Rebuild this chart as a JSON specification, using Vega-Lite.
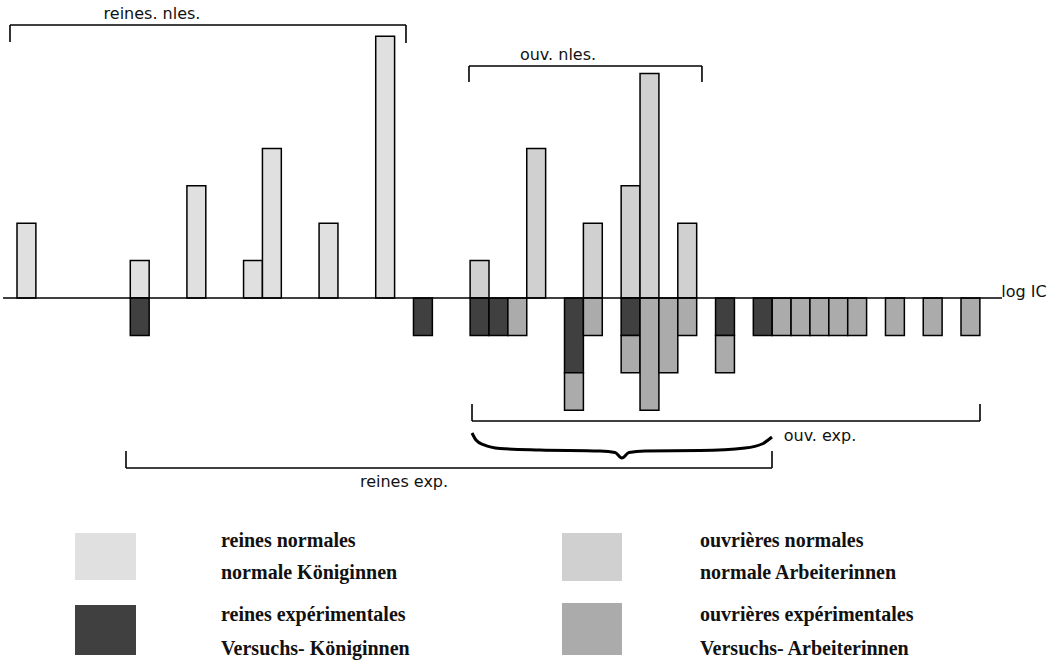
{
  "$schema": "https://vega.github.io/schema/vega-lite/v6.json",
  "width": 1056,
  "height": 660,
  "autosize": {"type": "fit", "contains": "padding"},
  "padding": 0,
  "background": "white",
  "config": {"view": {"stroke": null}},
  "datasets": {
    "barres": [
      {"classe": 0, "groupe": "reines normales", "caste": "reines", "n": 2},
      {"classe": 6, "groupe": "reines normales", "caste": "reines", "n": 1},
      {"classe": 9, "groupe": "reines normales", "caste": "reines", "n": 3},
      {"classe": 12, "groupe": "reines normales", "caste": "reines", "n": 1},
      {"classe": 13, "groupe": "reines normales", "caste": "reines", "n": 4},
      {"classe": 16, "groupe": "reines normales", "caste": "reines", "n": 2},
      {"classe": 19, "groupe": "reines normales", "caste": "reines", "n": 7},
      {"classe": 24, "groupe": "ouvrières normales", "caste": "ouvrières", "n": 1},
      {"classe": 27, "groupe": "ouvrières normales", "caste": "ouvrières", "n": 4},
      {"classe": 30, "groupe": "ouvrières normales", "caste": "ouvrières", "n": 2},
      {"classe": 32, "groupe": "ouvrières normales", "caste": "ouvrières", "n": 3},
      {"classe": 33, "groupe": "ouvrières normales", "caste": "ouvrières", "n": 6},
      {"classe": 35, "groupe": "ouvrières normales", "caste": "ouvrières", "n": 2},
      {"classe": 6, "groupe": "reines expérimentales", "caste": "reines", "n": -1},
      {"classe": 21, "groupe": "reines expérimentales", "caste": "reines", "n": -1},
      {"classe": 24, "groupe": "reines expérimentales", "caste": "reines", "n": -1},
      {"classe": 25, "groupe": "reines expérimentales", "caste": "reines", "n": -1},
      {"classe": 29, "groupe": "reines expérimentales", "caste": "reines", "n": -2},
      {"classe": 32, "groupe": "reines expérimentales", "caste": "reines", "n": -1},
      {"classe": 37, "groupe": "reines expérimentales", "caste": "reines", "n": -1},
      {"classe": 39, "groupe": "reines expérimentales", "caste": "reines", "n": -1},
      {"classe": 26, "groupe": "ouvrières expérimentales", "caste": "ouvrières", "n": -1},
      {"classe": 29, "groupe": "ouvrières expérimentales", "caste": "ouvrières", "n": -1},
      {"classe": 30, "groupe": "ouvrières expérimentales", "caste": "ouvrières", "n": -1},
      {"classe": 32, "groupe": "ouvrières expérimentales", "caste": "ouvrières", "n": -1},
      {"classe": 33, "groupe": "ouvrières expérimentales", "caste": "ouvrières", "n": -3},
      {"classe": 34, "groupe": "ouvrières expérimentales", "caste": "ouvrières", "n": -2},
      {"classe": 35, "groupe": "ouvrières expérimentales", "caste": "ouvrières", "n": -1},
      {"classe": 37, "groupe": "ouvrières expérimentales", "caste": "ouvrières", "n": -1},
      {"classe": 40, "groupe": "ouvrières expérimentales", "caste": "ouvrières", "n": -1},
      {"classe": 41, "groupe": "ouvrières expérimentales", "caste": "ouvrières", "n": -1},
      {"classe": 42, "groupe": "ouvrières expérimentales", "caste": "ouvrières", "n": -1},
      {"classe": 43, "groupe": "ouvrières expérimentales", "caste": "ouvrières", "n": -1},
      {"classe": 44, "groupe": "ouvrières expérimentales", "caste": "ouvrières", "n": -1},
      {"classe": 46, "groupe": "ouvrières expérimentales", "caste": "ouvrières", "n": -1},
      {"classe": 48, "groupe": "ouvrières expérimentales", "caste": "ouvrières", "n": -1},
      {"classe": 50, "groupe": "ouvrières expérimentales", "caste": "ouvrières", "n": -1}
    ],
    "traits": [
      {"x": -1.2415, "x2": 51.671, "y": 0, "y2": 0},
      {"x": -0.871, "x2": 20.103, "y": 7.299, "y2": 7.299},
      {"x": -0.871, "x2": -0.871, "y": 7.299, "y2": 6.845},
      {"x": 20.103, "x2": 20.103, "y": 7.299, "y2": 6.818},
      {"x": 23.44, "x2": 35.78, "y": 6.203, "y2": 6.203},
      {"x": 23.44, "x2": 23.44, "y": 6.203, "y2": 5.775},
      {"x": 35.78, "x2": 35.78, "y": 6.203, "y2": 5.775},
      {"x": 23.6, "x2": 50.506, "y": -3.289, "y2": -3.289},
      {"x": 23.6, "x2": 23.6, "y": -3.289, "y2": -2.834},
      {"x": 50.506, "x2": 50.506, "y": -3.289, "y2": -2.834},
      {"x": 5.273, "x2": 39.49, "y": -4.545, "y2": -4.545},
      {"x": 5.273, "x2": 5.273, "y": -4.545, "y2": -4.091},
      {"x": 39.49, "x2": 39.49, "y": -4.545, "y2": -4.091}
    ],
    "accolade": [
      {"x": 23.6, "y": -3.61},
      {"x": 23.811, "y": -3.797},
      {"x": 24.235, "y": -3.93},
      {"x": 25.083, "y": -4.024},
      {"x": 27.201, "y": -4.064},
      {"x": 30.379, "y": -4.091},
      {"x": 31.174, "y": -4.131},
      {"x": 31.544, "y": -4.278},
      {"x": 31.915, "y": -4.131},
      {"x": 32.763, "y": -4.091},
      {"x": 35.676, "y": -4.078},
      {"x": 38.059, "y": -4.011},
      {"x": 38.96, "y": -3.904},
      {"x": 39.489, "y": -3.717}
    ],
    "etiquettes": [
      {"texte": "reines. nles.", "x": 6.65, "y": 7.594},
      {"texte": "ouv. nles.", "x": 28.155, "y": 6.497},
      {"texte": "ouv. exp.", "x": 42.032, "y": -3.69},
      {"texte": "reines exp.", "x": 19.998, "y": -4.93},
      {"texte": "log IC", "x": 52.837, "y": 0.16}
    ],
    "cases": [
      {"groupe": "reines normales", "x": 2.572, "x2": 5.803, "y": -6.283, "y2": -7.54},
      {"groupe": "reines expérimentales", "x": 2.572, "x2": 5.803, "y": -8.209, "y2": -9.545},
      {"groupe": "ouvrières normales", "x": 28.366, "x2": 31.544, "y": -6.283, "y2": -7.567},
      {"groupe": "ouvrières expérimentales", "x": 28.366, "x2": 31.544, "y": -8.155, "y2": -9.545}
    ],
    "legende": [
      {"texte": "reines normales", "x": 10.305, "y": -6.497},
      {"texte": "normale Königinnen", "x": 10.305, "y": -7.353},
      {"texte": "reines expérimentales", "x": 10.305, "y": -8.476},
      {"texte": "Versuchs- Königinnen", "x": 10.305, "y": -9.385},
      {"texte": "ouvrières normales", "x": 35.676, "y": -6.497},
      {"texte": "normale Arbeiterinnen", "x": 35.676, "y": -7.353},
      {"texte": "ouvrières expérimentales", "x": 35.676, "y": -8.476},
      {"texte": "Versuchs- Arbeiterinnen", "x": 35.676, "y": -9.385}
    ]
  },
  "layer": [
    {
      "data": {"name": "barres"},
      "mark": {"type": "bar", "width": 18.88, "stroke": "black", "strokeWidth": 1.5},
      "encoding": {
        "x": {"field": "classe", "type": "quantitative", "axis": null, "scale": {"domain": [-1.4004, 54.532], "nice": false, "zero": false, "padding": 0}},
        "y": {"field": "n", "type": "quantitative", "stack": "zero", "axis": null, "scale": {"domain": [-9.679, 7.968], "nice": false, "zero": false, "padding": 0}},
        "color": {"field": "groupe", "type": "nominal", "legend": null, "scale": {"domain": ["reines normales", "reines expérimentales", "ouvrières normales", "ouvrières expérimentales"], "range": ["#e0e0e0", "#404040", "#d0d0d0", "#ababab"]}},
        "order": {"field": "caste", "sort": "descending"}
      }
    },
    {
      "data": {"name": "traits"},
      "mark": {"type": "rule", "color": "black", "strokeWidth": 1.6},
      "encoding": {
        "x": {"field": "x", "type": "quantitative", "axis": null, "scale": {"domain": [-1.4004, 54.532], "nice": false, "zero": false, "padding": 0}},
        "x2": {"field": "x2"},
        "y": {"field": "y", "type": "quantitative", "axis": null, "scale": {"domain": [-9.679, 7.968], "nice": false, "zero": false, "padding": 0}},
        "y2": {"field": "y2"}
      }
    },
    {
      "data": {"name": "accolade"},
      "mark": {"type": "line", "color": "black", "strokeWidth": 3, "interpolate": "monotone"},
      "encoding": {
        "x": {"field": "x", "type": "quantitative", "axis": null, "scale": {"domain": [-1.4004, 54.532], "nice": false, "zero": false, "padding": 0}},
        "y": {"field": "y", "type": "quantitative", "axis": null, "scale": {"domain": [-9.679, 7.968], "nice": false, "zero": false, "padding": 0}}
      }
    },
    {
      "data": {"name": "etiquettes"},
      "mark": {"type": "text", "font": "DejaVu Sans", "fontSize": 16, "align": "center", "baseline": "middle", "color": "#111"},
      "encoding": {
        "x": {"field": "x", "type": "quantitative", "axis": null, "scale": {"domain": [-1.4004, 54.532], "nice": false, "zero": false, "padding": 0}},
        "y": {"field": "y", "type": "quantitative", "axis": null, "scale": {"domain": [-9.679, 7.968], "nice": false, "zero": false, "padding": 0}},
        "text": {"field": "texte"}
      }
    },
    {
      "data": {"name": "cases"},
      "mark": {"type": "rect"},
      "encoding": {
        "x": {"field": "x", "type": "quantitative", "axis": null, "scale": {"domain": [-1.4004, 54.532], "nice": false, "zero": false, "padding": 0}},
        "x2": {"field": "x2"},
        "y": {"field": "y", "type": "quantitative", "axis": null, "scale": {"domain": [-9.679, 7.968], "nice": false, "zero": false, "padding": 0}},
        "y2": {"field": "y2"},
        "color": {"field": "groupe", "type": "nominal", "legend": null}
      }
    },
    {
      "data": {"name": "legende"},
      "mark": {"type": "text", "font": "Liberation Serif", "fontSize": 20, "fontWeight": "bold", "align": "left", "baseline": "middle", "color": "#111"},
      "encoding": {
        "x": {"field": "x", "type": "quantitative", "axis": null, "scale": {"domain": [-1.4004, 54.532], "nice": false, "zero": false, "padding": 0}},
        "y": {"field": "y", "type": "quantitative", "axis": null, "scale": {"domain": [-9.679, 7.968], "nice": false, "zero": false, "padding": 0}},
        "text": {"field": "texte"}
      }
    }
  ]
}
